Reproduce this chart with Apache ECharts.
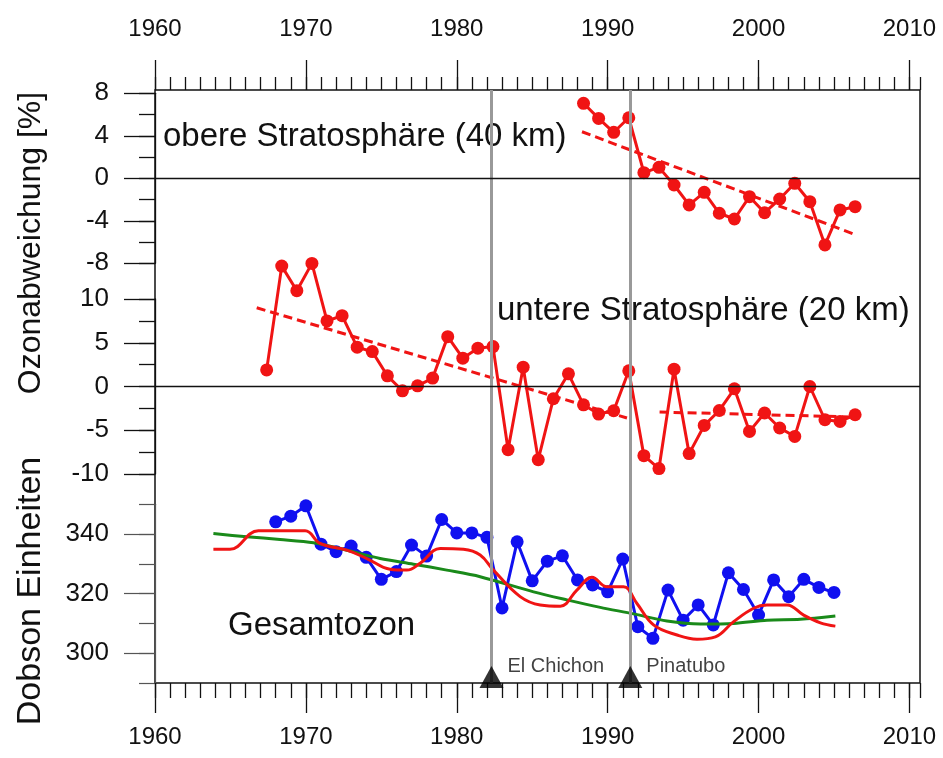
<!DOCTYPE html>
<html><head><meta charset="utf-8">
<script src="https://cdn.jsdelivr.net/npm/echarts@6/dist/echarts.min.js"></script>
<style>html,body{margin:0;padding:0;background:#fff}#c{width:943px;height:758px}</style>
</head><body><div id="c"></div>
<script>
// ---------- data ----------
const decadeTicks = [1960, 1970, 1980, 1990, 2000, 2010];
const totalTicksMajor = [300, 320, 340];

const eventYears = [1982.3, 1991.5];
const eventNames = ['El Chichon', 'Pinatubo'];

// upper stratosphere (40 km), % deviation
const upperX = [1988.4,1989.4,1990.4,1991.4,1992.4,1993.4,1994.4,1995.4,1996.4,1997.4,1998.4,1999.4,2000.4,2001.4,2002.4,2003.4,2004.4,2005.4,2006.4];
const upperVals = [7.06,5.64,4.33,5.70,0.53,1.03,-0.63,-2.51,-1.32,-3.29,-3.83,-1.73,-3.24,-1.95,-0.47,-2.20,-6.27,-2.98,-2.67];
const upperTrendX = [1988.3, 2006.3];
const upperTrendVals = [4.38, -5.24];

// lower stratosphere (20 km), % deviation
const lowerX = [1967.4,1968.4,1969.4,1970.4,1971.4,1972.4,1973.4,1974.4,1975.4,1976.4,1977.4,1978.4,1979.4,1980.4,1981.4,1982.4,1983.4,1984.4,1985.4,1986.4,1987.4,1988.4,1989.4,1990.4,1991.4,1992.4,1993.4,1994.4,1995.4,1996.4,1997.4,1998.4,1999.4,2000.4,2001.4,2002.4,2003.4,2004.4,2005.4,2006.4];
const lowerVals = [1.90,13.76,10.95,14.07,7.49,8.10,4.49,3.99,1.22,-0.49,0.08,0.96,5.70,3.24,4.38,4.56,-7.22,2.21,-8.36,-1.40,1.45,-2.09,-3.15,-2.77,1.79,-7.90,-9.38,1.98,-7.67,-4.45,-2.74,-0.26,-5.13,-3.03,-4.74,-5.70,0.00,-3.80,-3.99,-3.23];
const lowerTrend1X = [1966.74, 1991.28];
const lowerTrend1Vals = [9.0, -3.6];
const lowerTrend2X = [1993.44, 2006.42];
const lowerTrend2Vals = [-2.92, -3.49];

// total ozone, Dobson units
const totalX = [1968,1969,1970,1971,1972,1973,1974,1975,1976,1977,1978,1979,1980,1981,1982,1983,1984,1985,1986,1987,1988,1989,1990,1991,1992,1993,1994,1995,1996,1997,1998,1999,2000,2001,2002,2003,2004,2005];
const totalVals = [344.1,346.0,349.5,336.6,334.1,336.0,332.2,324.8,327.4,336.3,332.6,344.9,340.4,340.4,338.9,315.2,337.4,324.3,330.9,332.7,324.6,322.9,320.6,331.6,308.9,305.0,321.2,311.1,316.2,309.5,327.0,321.4,312.8,324.6,319.0,324.8,322.1,320.4];
const smoothX = [1963.87,1964.97,1966.85,1969.95,1970.94,1972.71,1974.04,1975.58,1976.69,1977.57,1978.9,1980.44,1981.55,1982.43,1984.2,1985.53,1986.86,1987.96,1988.96,1989.95,1991.05,1991.94,1993.04,1994.6,1995.92,1997.14,1998.35,1999.67,2000.56,2001.89,2002.99,2004.1,2005.09];
const smoothVals = [334.9,334.9,341.1,341.1,336.9,334.6,331.8,328.2,327.9,330.2,335.2,334.9,333.0,327.9,319.0,316.2,315.8,321.2,325.5,322.3,322.3,316.7,309.5,306.1,304.7,305.5,310.6,315.1,316.2,316.2,312.8,310.2,309.1];
const trendX = [1963.87,1966.08,1968.29,1970.5,1972.71,1974.92,1977.13,1979.34,1981.55,1985.09,1987.3,1989.51,1991.72,1993.93,1996.15,1998.35,2000.56,2002.77,2005.09];
const trendVals = [340.2,339.1,338.2,337.1,334.6,331.8,329.9,327.9,325.7,320.6,317.9,315.4,313.2,310.8,309.8,310.0,311.1,311.4,312.5];

// ---------- chart ----------
const pairs = (xs, ys) => xs.map((x, i) => [x, ys[i]]);
const FONT = 'Liberation Sans, Arial, sans-serif';
const INK = '#111';
const RED = '#f01414';
const BLUE = '#1010f0';
const GREEN = '#1a8a1a';
const tickLS = {color: INK, width: 1.3};
const plain = v => String(v);
const xBase = {type: 'value', min: 1960, max: 2010.7, splitLine: {show: false}};
const gridBase = {left: 155, right: 23, outerBoundsMode: 'none', containLabel: false};

const chart = echarts.init(document.getElementById('c'));
chart.setOption({
  animation: false,
  backgroundColor: '#fff',
  grid: [
    Object.assign({}, gridBase, {top: 90, bottom: 75, show: true, borderColor: INK, borderWidth: 1.5, backgroundColor: 'transparent'}),
    Object.assign({}, gridBase, {top: 93.3, height: 170}),
    Object.assign({}, gridBase, {top: 299, height: 175}),
    Object.assign({}, gridBase, {top: 504.3, height: 178.7})
  ],
  xAxis: [
    Object.assign({}, xBase, {gridIndex: 0, position: 'bottom', axisLine: {show: false, onZero: false},
      axisTick: {show: true, length: 30, customValues: decadeTicks, lineStyle: tickLS},
      axisLabel: {customValues: decadeTicks, formatter: plain, fontSize: 24, margin: 42, color: INK, fontFamily: FONT}}),
    Object.assign({}, xBase, {gridIndex: 0, position: 'bottom', interval: 1, axisLine: {show: false, onZero: false},
      axisTick: {show: true, length: 15, lineStyle: tickLS}, axisLabel: {show: false}}),
    Object.assign({}, xBase, {gridIndex: 0, position: 'top', axisLine: {show: false, onZero: false},
      axisTick: {show: true, length: 30, customValues: decadeTicks, lineStyle: tickLS},
      axisLabel: {customValues: decadeTicks, formatter: plain, fontSize: 24, margin: 49, color: INK, fontFamily: FONT}}),
    Object.assign({}, xBase, {gridIndex: 0, position: 'top', interval: 1, axisLine: {show: false, onZero: false},
      axisTick: {show: true, length: 13, lineStyle: tickLS}, axisLabel: {show: false}}),
    Object.assign({}, xBase, {gridIndex: 1, show: false}),
    Object.assign({}, xBase, {gridIndex: 2, show: false}),
    Object.assign({}, xBase, {gridIndex: 3, show: false})
  ],
  yAxis: [
    {type: 'value', gridIndex: 0, min: 0, max: 1, show: false},
    {type: 'value', gridIndex: 1, position: 'left', min: -8, max: 8, interval: 2, splitLine: {show: false},
      axisLine: {show: true, onZero: false, lineStyle: {color: INK, width: 1.3}},
      axisTick: {length: 16, lineStyle: tickLS}, axisLabel: {show: false}},
    {type: 'value', gridIndex: 1, position: 'left', min: -8, max: 8, interval: 4, splitLine: {show: false},
      axisLine: {show: false, onZero: false},
      axisTick: {length: 31, lineStyle: tickLS}, axisLabel: {fontSize: 26, margin: 46, color: INK, fontFamily: FONT}},
    {type: 'value', gridIndex: 2, position: 'left', min: -10, max: 10, interval: 2.5, splitLine: {show: false},
      axisLine: {show: true, onZero: false, lineStyle: {color: INK, width: 1.3}},
      axisTick: {length: 16, lineStyle: tickLS}, axisLabel: {show: false}},
    {type: 'value', gridIndex: 2, position: 'left', min: -10, max: 10, interval: 5, splitLine: {show: false},
      axisLine: {show: false, onZero: false},
      axisTick: {length: 31, lineStyle: tickLS}, axisLabel: {fontSize: 26, margin: 46, color: INK, fontFamily: FONT}},
    {type: 'value', gridIndex: 3, position: 'left', min: 290, max: 350, interval: 10, splitLine: {show: false},
      axisLine: {show: true, onZero: false, lineStyle: {color: '#555', width: 1.2}},
      axisTick: {length: 16, lineStyle: {color: '#555', width: 1.2}}, axisLabel: {show: false}},
    {type: 'value', gridIndex: 3, position: 'left', min: 290, max: 350, splitLine: {show: false},
      axisLine: {show: false, onZero: false},
      axisTick: {length: 31, customValues: totalTicksMajor, lineStyle: {color: '#555', width: 1.2}},
      axisLabel: {customValues: totalTicksMajor, formatter: plain, fontSize: 26, margin: 46, color: INK, fontFamily: FONT}}
  ],
  series: [
    {type: 'line', xAxisIndex: 0, yAxisIndex: 0, data: [], z: 1, silent: true,
      markLine: {silent: true, symbol: 'none', label: {show: false}, lineStyle: {color: '#999', width: 3, type: 'solid'},
        data: eventYears.map(x => ({xAxis: x}))}},
    {type: 'line', xAxisIndex: 4, yAxisIndex: 1, data: pairs(upperX, upperVals), clip: false, z: 3,
      symbol: 'circle', symbolSize: 13, lineStyle: {color: RED, width: 3}, itemStyle: {color: RED},
      markLine: {silent: true, symbol: 'none', label: {show: false}, lineStyle: {color: INK, width: 1.3, type: 'solid'}, data: [{yAxis: 0}]}},
    {type: 'line', xAxisIndex: 4, yAxisIndex: 1, data: pairs(upperTrendX, upperTrendVals), showSymbol: false, z: 3,
      lineStyle: {color: RED, width: 3, type: [9, 5]}},
    {type: 'line', xAxisIndex: 5, yAxisIndex: 3, data: pairs(lowerX, lowerVals), clip: false, z: 3,
      symbol: 'circle', symbolSize: 13, lineStyle: {color: RED, width: 3}, itemStyle: {color: RED},
      markLine: {silent: true, symbol: 'none', label: {show: false}, lineStyle: {color: INK, width: 1.3, type: 'solid'}, data: [{yAxis: 0}]}},
    {type: 'line', xAxisIndex: 5, yAxisIndex: 3, data: pairs(lowerTrend1X, lowerTrend1Vals), showSymbol: false, z: 3,
      lineStyle: {color: RED, width: 3, type: [9, 5]}},
    {type: 'line', xAxisIndex: 5, yAxisIndex: 3, data: pairs(lowerTrend2X, lowerTrend2Vals), showSymbol: false, z: 3,
      lineStyle: {color: RED, width: 3, type: [9, 5]}},
    {type: 'line', xAxisIndex: 6, yAxisIndex: 5, data: pairs(totalX, totalVals), clip: false, z: 3,
      symbol: 'circle', symbolSize: 13, lineStyle: {color: BLUE, width: 3}, itemStyle: {color: BLUE}},
    {type: 'line', xAxisIndex: 6, yAxisIndex: 5, data: pairs(trendX, trendVals), showSymbol: false, smooth: 0.3, z: 4,
      lineStyle: {color: GREEN, width: 3}},
    {type: 'line', xAxisIndex: 6, yAxisIndex: 5, data: pairs(smoothX, smoothVals), showSymbol: false, smooth: 0.4, z: 4,
      lineStyle: {color: RED, width: 3}},
    {type: 'scatter', xAxisIndex: 0, yAxisIndex: 0, data: eventYears.map(x => [x, 0.01]), z: 6, silent: true,
      symbol: 'triangle', symbolSize: [24, 22], itemStyle: {color: '#000'},
      label: {show: true, position: 'right', distance: 4, offset: [0, -11], color: '#111', fontSize: 20, fontFamily: FONT,
        formatter: p => eventNames[p.dataIndex]}}
  ],
  graphic: [
    {type: 'text', x: 163, y: 137, style: {text: 'obere Stratosphäre (40 km)', fontSize: 33, fontFamily: FONT, fill: INK, verticalAlign: 'middle', textVerticalAlign: 'middle'}},
    {type: 'text', x: 497, y: 311, style: {text: 'untere Stratosphäre (20 km)', fontSize: 33, fontFamily: FONT, fill: INK, verticalAlign: 'middle', textVerticalAlign: 'middle'}},
    {type: 'text', x: 228, y: 626, style: {text: 'Gesamtozon', fontSize: 33, fontFamily: FONT, fill: INK, verticalAlign: 'middle', textVerticalAlign: 'middle'}},
    {type: 'text', x: 31, y: 243, rotation: Math.PI / 2, style: {text: 'Ozonabweichung [%]', fontSize: 32, fontFamily: FONT, fill: INK, align: 'center', textAlign: 'center', verticalAlign: 'middle', textVerticalAlign: 'middle'}},
    {type: 'text', x: 31, y: 591, rotation: Math.PI / 2, style: {text: 'Dobson Einheiten', fontSize: 34, fontFamily: FONT, fill: INK, align: 'center', textAlign: 'center', verticalAlign: 'middle', textVerticalAlign: 'middle'}}
  ]
});
</script></body></html>
